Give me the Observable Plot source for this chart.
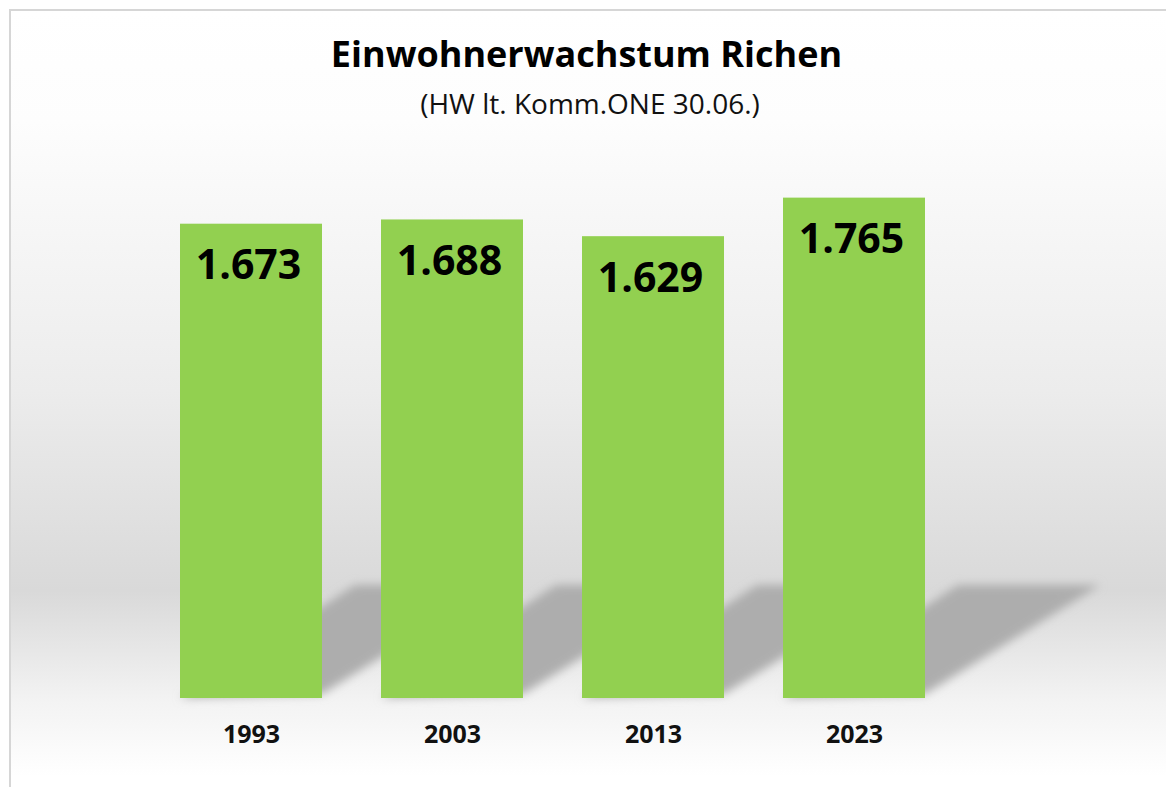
<!DOCTYPE html>
<html>
<head>
<meta charset="utf-8">
<script src="https://cdn.jsdelivr.net/npm/d3@7"></script>
<script src="https://cdn.jsdelivr.net/npm/@observablehq/plot@0.6"></script>
<style>
  html, body { margin: 0; padding: 0; width: 1166px; height: 787px; overflow: hidden; background: #fff; }
  #frame {
    position: absolute; left: 9px; top: 9px; width: 1200px; height: 820px;
    border: 2px solid #d6d6d6; box-sizing: border-box;
    background: linear-gradient(to bottom, #ffffff 0px, #fdfdfd 110px, #ececec 380px, #d9d9d9 580px, #f3f3f3 690px, #ffffff 765px);
  }
  #title {
    position: absolute; left: 0; width: 1173px; top: 29px; text-align: center;
    font-family: "Open Sans", sans-serif; font-weight: 700; font-size: 36px; color: #000;
  }
  #subtitle {
    position: absolute; left: 0; width: 1180px; top: 84px; text-align: center;
    font-family: "Open Sans", sans-serif; font-weight: 400; font-size: 28px; color: #111;
  }
  #chart { position: absolute; left: 0; top: 131px; }
</style>
</head>
<body>
<div id="frame"></div>
<div id="title">Einwohnerwachstum Richen</div>
<div id="subtitle">(HW lt. Komm.ONE 30.06.)</div>
<div id="chart"></div>
<script>
const years = ["1993", "2003", "2013", "2023"];
const residents = [1673, 1688, 1629, 1765];

const data = years.map((year, i) => ({year, value: residents[i]}));
const de = d3.formatLocale({decimal: ",", thousands: ".", grouping: [3], currency: ["", " €"]});
const fmt = de.format(",d");

// Perspective floor shadow behind each bar, positioned through the scales
function shadows(index, scales, values, dimensions) {
  const ns = "http://www.w3.org/2000/svg";
  const g = document.createElementNS(ns, "g");
  const defs = document.createElementNS(ns, "defs");
  defs.innerHTML = '<filter id="shblur" x="-20%" y="-50%" width="140%" height="200%"><feGaussianBlur stdDeviation="5"/></filter>';
  g.appendChild(defs);
  const x = scales.x, y = scales.y;
  const bw = x.bandwidth ? x.bandwidth() : 0;
  const y0 = y(0);
  const dx = 175, dy = 113;
  for (const d of data) {
    const x0 = x(d.year), x1 = x0 + bw;
    const p = document.createElementNS(ns, "polygon");
    p.setAttribute("points", `${x0},${y0} ${x1},${y0 - 4} ${x1 + dx},${y0 - dy} ${x0 + dx},${y0 - dy}`);
    p.setAttribute("fill", "#adadad");
    p.setAttribute("filter", "url(#shblur)");
    g.appendChild(p);
  }
  return g;
}

const chart = Plot.plot({
  width: 1166,
  height: 656,
  marginTop: 0,
  marginBottom: 89,
  marginLeft: 149,
  marginRight: 211,
  style: {background: "transparent", fontFamily: "Open Sans, sans-serif"},
  x: {domain: years, paddingInner: 0.295, paddingOuter: 0.1475, label: null},
  y: {domain: [0, 2000], axis: null},
  marks: [
    shadows,
    Plot.barY(data, {x: "year", y: "value", fill: "#92d050"}),
    Plot.text(data, {x: "year", y: "value", text: d => fmt(d.value), dy: 42, dx: -3,
      fontSize: 41, fontWeight: "bold", fill: "#000"}),
    Plot.axisX({tickSize: 0, tickPadding: 27, fontSize: 25, fontWeight: "bold", color: "#111", label: null})
  ]
});
document.getElementById("chart").appendChild(chart);
</script>
</body>
</html>
